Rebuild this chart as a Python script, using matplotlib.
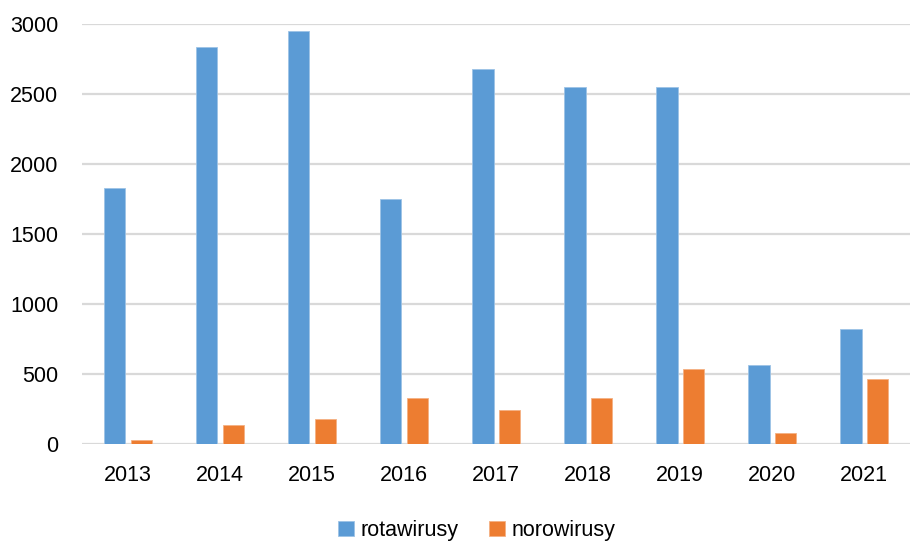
import matplotlib
matplotlib.use("Agg")
import matplotlib.pyplot as plt
import numpy as np

years = ["2013", "2014", "2015", "2016", "2017", "2018", "2019", "2020", "2021"]
rota = [1826, 2836, 2948, 1752, 2680, 2550, 2550, 562, 822]
noro = [33, 136, 183, 327, 245, 333, 540, 83, 464]

plt.rcParams['font.family'] = ['Liberation Sans', 'DejaVu Sans']

fig = plt.figure(figsize=(9.11, 5.43), dpi=100)
ax = fig.add_axes([0.09, 0.182, 0.909, 0.774])

x = np.arange(len(years))
w = 0.23
gap = 0.055
ax.bar(x - (w + gap) / 2, rota, w, color="#5B9BD5", edgecolor="#9DC3E6", linewidth=0.6,
       label="rotawirusy", zorder=3)
ax.bar(x + (w + gap) / 2, noro, w, color="#ED7D31", edgecolor="#F4B183", linewidth=0.6,
       label="norowirusy", zorder=3)

ax.set_ylim(0, 3000)
ax.set_xlim(-0.5, len(years) - 0.5)
ax.set_yticks(range(0, 3001, 500))
ax.set_xticks(x)
ax.set_xticklabels(years)
ax.tick_params(axis="both", length=0, labelsize=15.5, colors="black")
ax.tick_params(axis="y", pad=17)
ax.tick_params(axis="x", pad=15)
ax.yaxis.grid(True, color="#D9D9D9", linewidth=1.6, zorder=0)
for s in ax.spines.values():
    s.set_visible(False)

fig.legend(loc="lower center", bbox_to_anchor=(0.523, -0.032), ncol=2, frameon=False,
           fontsize=15.5, handlelength=0.75, handleheight=0.75, handletextpad=0.3,
           columnspacing=1.4)

fig.savefig("out.png", dpi=100)
